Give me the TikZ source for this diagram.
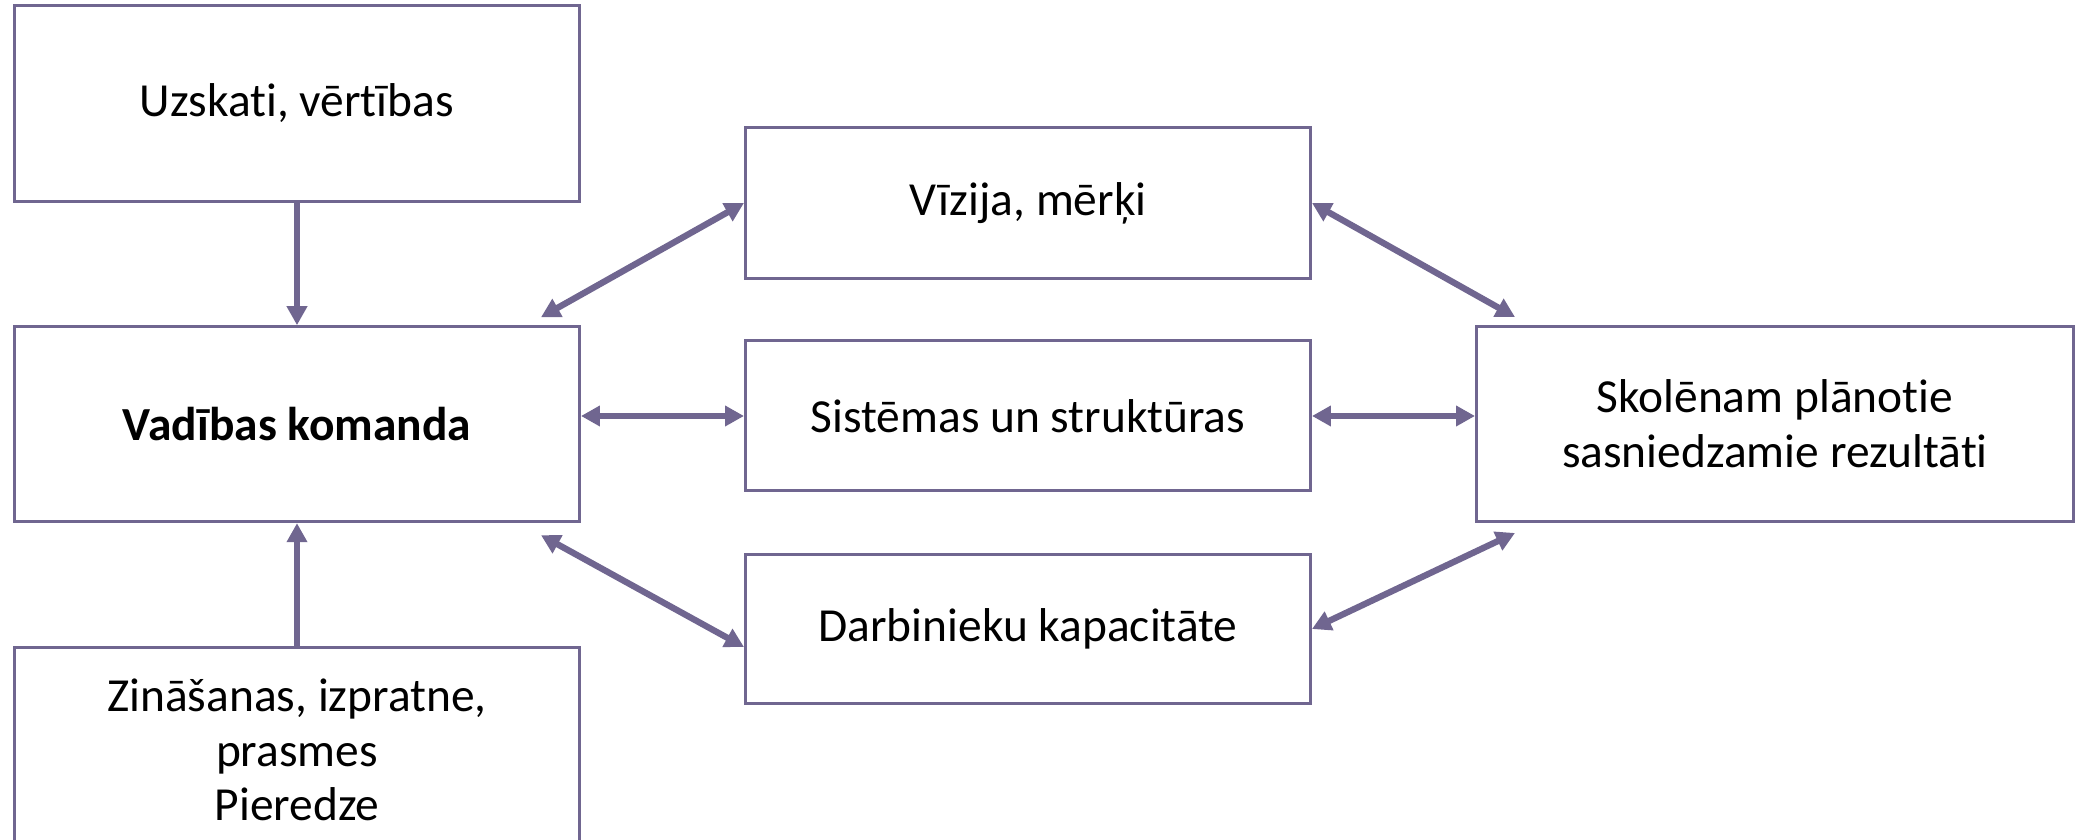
\documentclass[tikz,border=0pt]{standalone}
\usepackage{fontspec}
\setmainfont{Carlito}[Ligatures={NoCommon}]
\usetikzlibrary{arrows.meta}
\definecolor{xline}{RGB}{112,102,144}

\begin{document}
\begin{tikzpicture}[>={Triangle[length=5.4pt,width=5.6pt]}, every node/.style={font=\fontsize{13.5}{15.6}\selectfont}]
\tikzset{blok/.style={rectangle,draw=xline,line width=0.85pt,fill=white,align=center,inner sep=0pt,minimum width=5.65cm}}
\tikzset{conn/.style={draw=xline,line width=1.8pt}}
\useasboundingbox (0,0) rectangle (20.8,8.4);
% left column
\node[blok,minimum height=1.96cm] at (2.97,7.365) (uzsk) {Uzskati, vērtības};
\node[blok,minimum height=1.95cm] at (2.97,4.158) (vad) {\textbf{Vadības komanda}};
\node[blok,minimum height=2.04cm] at (2.97,0.9) (zin) {Zināšanas, izpratne,\\prasmes\\Pieredze};
% middle column
\node[blok,minimum height=1.51cm] at (10.28,6.37) (viz) {Vīzija, mērķi};
\node[blok,minimum height=1.50cm] at (10.28,4.24) (sist) {Sistēmas un struktūras};
\node[blok,minimum height=1.485cm] at (10.28,2.11) (darb) {Darbinieku kapacitāte};
% right
\node[blok,minimum width=5.97cm,minimum height=1.95cm] at (17.75,4.16) (rez) {Skolēnam plānotie\\sasniedzamie rezultāti};
\coordinate[xshift=-0.4cm,yshift=0.08cm] (vadNE) at (vad.north east);
\coordinate[xshift=-0.4cm,yshift=-0.12cm] (vadSE) at (vad.south east);
\coordinate[xshift=0.4cm,yshift=0.08cm] (rezNW) at (rez.north west);
\coordinate[xshift=0.4cm,yshift=-0.1cm] (rezSW) at (rez.south west);
\coordinate[yshift=-0.18cm] (darbW) at (darb.west);
\draw[conn,->] (uzsk) -- (vad);
\draw[conn,->] (zin) -- (vad);
\draw[conn,<->] (vadNE) -- (viz.west);
\draw[conn,<->] (sist.west -| vad.east) -- (sist.west);
\draw[conn,<->] (vadSE) -- (darbW);
\draw[conn,<->] (viz.east) -- (rezNW);
\draw[conn,<->] (sist.east) -- (sist.east -| rez.west);
\draw[conn,<->] (darb.east) -- (rezSW);
\end{tikzpicture}
\end{document}
